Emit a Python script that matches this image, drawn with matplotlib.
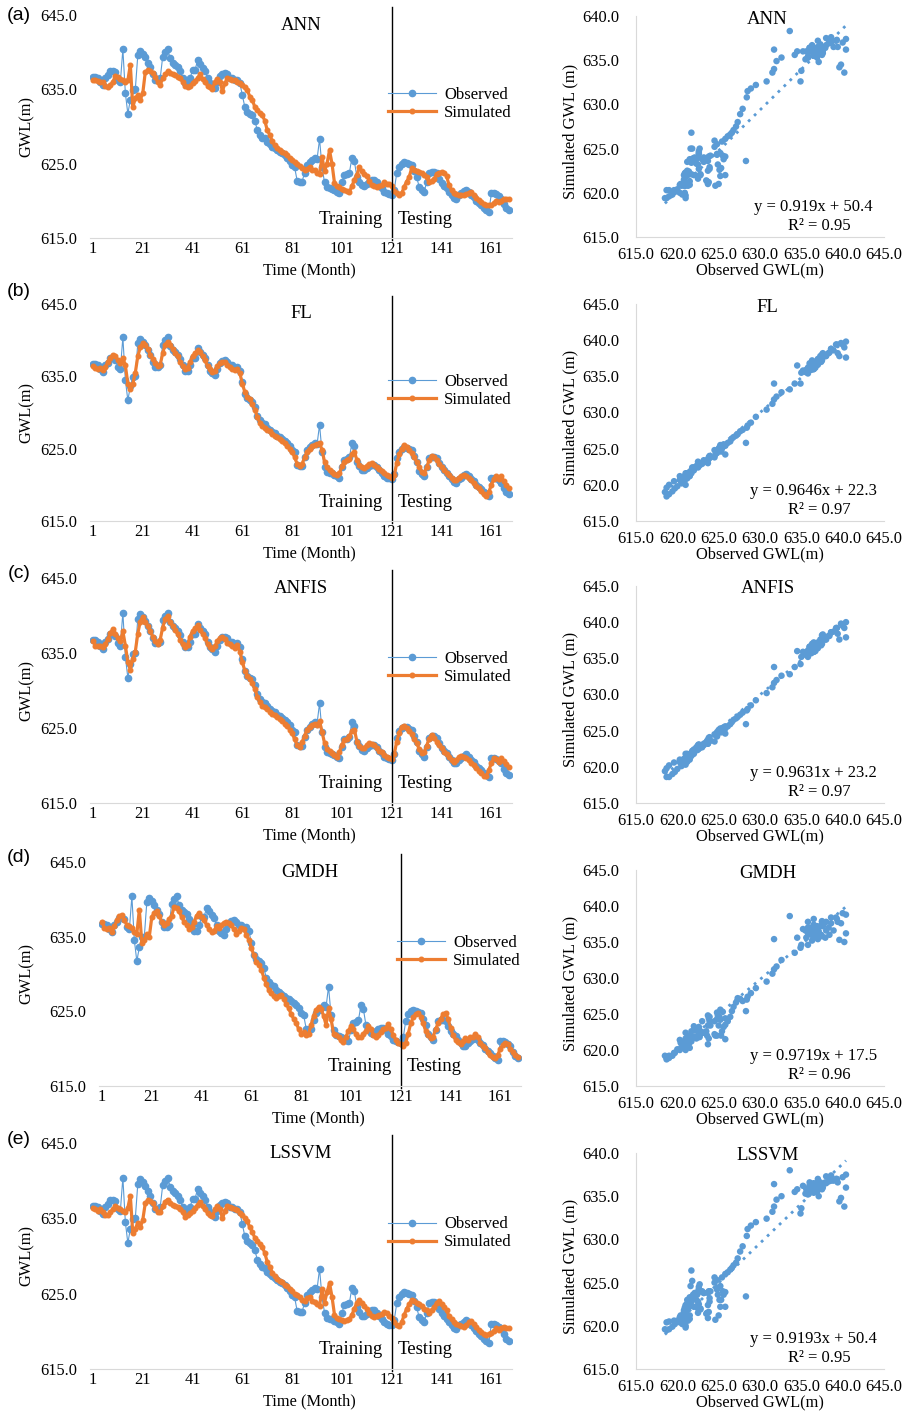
import numpy as np
import matplotlib
matplotlib.use("Agg")
import matplotlib.pyplot as plt
import matplotlib.transforms as mtransforms

# ---- data -----------------------------------------------------------------
months = list(range(1, 169))

observed = [
    636.7, 636.7, 636.5, 636.0, 635.6, 636.5, 636.9, 637.5, 637.5, 637.3,
    636.3, 636.0, 640.4, 634.5, 631.7, 633.6, 634.9, 635.0, 639.6, 640.2,
    639.8, 639.3, 638.6, 638.0, 637.0, 636.3, 636.3, 636.5, 639.4, 640.0,
    640.4, 639.2, 638.6, 638.3, 638.0, 637.4, 636.5, 635.8, 635.8, 636.5,
    637.6, 637.6, 638.9, 638.4, 637.9, 637.5, 636.5, 635.8, 635.5, 635.2,
    636.0, 636.8, 637.1, 637.2, 637.0, 636.5, 636.5, 636.2, 636.3, 635.8,
    634.2, 632.6, 632.0, 631.7, 631.5, 630.8, 629.5, 628.9, 628.5, 628.4,
    627.9, 627.6, 627.3, 627.1, 626.8, 626.6, 626.4, 626.1, 625.8, 625.4,
    624.8, 624.5, 622.7, 622.6, 622.6, 623.8, 624.8, 625.2, 625.5, 625.8,
    625.6, 628.3, 624.5, 622.5, 621.8, 621.7, 621.6, 621.4, 621.2, 621.0,
    622.5, 623.5, 623.6, 623.8, 625.8, 625.3, 623.2, 622.6, 622.1, 622.0,
    622.3, 622.6, 622.8, 622.8, 622.5, 622.0, 621.7, 621.2, 621.0, 620.9,
    620.8, 621.5, 623.7, 624.6, 625.0, 625.2, 625.1, 624.9, 624.8, 624.0,
    623.2, 621.9, 621.5, 621.2, 622.5, 623.7, 623.9, 623.9, 623.7, 623.0,
    622.4, 622.0, 621.7, 621.2, 620.8, 620.4, 620.3, 620.8, 621.0, 621.3,
    621.5, 621.2, 620.8, 620.5, 620.0, 619.7, 619.4, 619.0, 618.7, 618.5,
    621.0, 621.0, 620.9, 620.6, 620.3, 619.6, 619.0, 618.7,
]

sim_ann = [
    636.2, 636.3, 636.1, 636.0, 636.0, 635.5, 635.3, 635.6, 636.0, 636.8,
    636.6, 636.4, 636.2, 636.0, 636.2, 638.3, 632.6, 633.8, 634.2, 633.6,
    634.5, 637.3, 637.6, 637.5, 637.2, 636.7, 636.0, 635.6, 636.5, 637.0,
    637.4, 637.2, 637.0, 636.9, 636.7, 636.5, 636.0, 635.4, 635.3, 635.5,
    635.8, 636.1, 636.5, 637.0, 636.4, 636.0, 635.5, 635.3, 635.1, 636.0,
    636.4, 636.0, 634.8, 635.8, 636.5, 636.4, 636.2, 636.3, 636.0, 635.9,
    635.6, 635.3, 634.9, 634.0, 633.6, 632.6, 632.2, 631.8, 631.5, 630.8,
    629.5, 628.9, 628.0, 627.5, 627.1, 626.8, 626.6, 626.4, 626.1, 625.8,
    625.5, 625.2, 625.0, 624.7, 624.4, 624.1, 624.3, 624.5, 624.2, 624.1,
    623.8, 623.6, 625.9, 624.0, 625.0, 626.8, 625.0, 622.4, 622.0, 621.8,
    621.6, 621.4, 621.3, 621.2, 622.0, 622.8, 623.5, 624.5, 624.0, 623.6,
    623.3, 622.7, 622.1, 622.0, 621.9, 622.0, 622.1, 622.5, 622.3, 622.2,
    622.0, 621.3, 621.0, 620.8, 621.0, 621.9, 622.6, 623.2, 624.4, 624.2,
    624.0, 623.9, 623.8, 623.5, 623.2, 622.5, 622.7, 622.9, 623.6, 623.8,
    623.9, 623.7, 623.4, 622.1, 621.5, 621.0, 620.9, 620.8, 620.8, 620.8,
    620.9, 621.0, 621.2, 620.8, 620.4, 620.1, 619.8, 619.6, 619.4, 619.4,
    619.4, 619.7, 620.0, 619.8, 620.0, 620.3, 620.3, 620.3,
]

sim_fl = [
    636.4, 636.2, 636.0, 636.1, 635.9, 636.3, 637.0, 637.6, 638.0, 637.8,
    637.2, 636.8, 637.6, 636.5, 634.0, 633.2, 634.0, 635.5, 637.8, 639.0,
    639.6, 639.4, 638.8, 638.0, 637.4, 636.8, 636.4, 636.6, 638.2, 639.4,
    639.8, 639.4, 638.8, 638.2, 637.8, 637.0, 636.4, 636.0, 636.2, 637.0,
    637.8, 638.2, 638.6, 638.3, 637.8, 637.2, 636.4, 636.0, 635.6, 635.8,
    636.4, 636.8, 637.0, 637.0, 636.6, 636.3, 636.0, 635.9, 636.0, 635.4,
    634.0, 632.8, 632.2, 631.8, 631.2, 630.4, 629.4, 628.6, 628.2, 627.9,
    627.6, 627.4, 627.0, 626.8, 626.6, 626.4, 626.0, 625.8, 625.4, 625.0,
    624.6, 623.8, 622.9, 622.6, 622.9, 623.8, 624.6, 625.0, 625.3, 625.5,
    625.6, 625.8, 624.8, 623.2, 622.4, 622.0, 621.8, 621.5, 621.3, 621.6,
    622.6, 623.2, 623.4, 623.6, 624.2, 624.6, 623.4, 622.8, 622.4, 622.3,
    622.6, 622.9, 623.0, 622.8, 622.5, 622.2, 621.9, 621.6, 621.3, 621.2,
    621.0, 621.3, 623.0, 624.2, 625.0, 625.5, 625.2, 624.8, 624.4, 623.8,
    623.2, 622.4, 621.8, 621.6, 622.4, 623.4, 624.0, 623.8, 623.4, 622.9,
    622.5, 622.0, 621.6, 621.3, 620.9, 620.6, 620.7, 621.0, 621.2, 621.4,
    621.2, 620.9, 620.6, 620.2, 619.8, 619.5, 619.1, 618.7, 618.4, 619.0,
    620.0, 620.8, 621.2, 620.8, 621.2, 620.5, 620.0, 619.6,
]

sim_anfis = [
    636.6, 636.0, 635.9, 636.0, 635.8, 636.2, 636.9, 637.7, 638.2, 637.6,
    637.0, 636.6, 637.9, 636.0, 633.8, 632.8, 634.2, 635.2, 637.6, 639.2,
    639.8, 639.2, 638.6, 637.9, 637.2, 636.6, 636.2, 636.8, 638.4, 639.5,
    640.0, 639.2, 638.6, 638.1, 637.6, 636.8, 636.2, 635.8, 636.1, 637.2,
    637.9, 638.3, 638.7, 638.1, 637.6, 637.0, 636.2, 635.8, 635.5, 635.9,
    636.6, 637.0, 637.1, 636.9, 636.4, 636.2, 635.9, 635.7, 636.1, 635.2,
    633.8, 632.6, 632.0, 631.6, 631.0, 630.2, 629.2, 628.5, 628.0, 627.8,
    627.5, 627.2, 626.9, 626.7, 626.5, 626.2, 625.9, 625.6, 625.3, 624.8,
    624.3, 623.5, 622.7, 622.5, 623.1, 624.0, 624.8, 625.2, 625.4, 625.6,
    625.4, 625.9, 624.5, 623.0, 622.2, 621.9, 621.7, 621.4, 621.2, 621.8,
    622.8, 623.4, 623.6, 623.9, 624.6, 624.8, 623.2, 622.6, 622.3, 622.4,
    622.7, 623.0, 622.9, 622.7, 622.4, 622.0, 621.8, 621.4, 621.2, 621.0,
    620.9, 621.5, 623.2, 624.4, 625.1, 625.3, 625.0, 624.6, 624.2, 623.6,
    623.0, 622.2, 621.7, 621.8, 622.6, 623.6, 624.1, 623.7, 623.2, 622.7,
    622.3, 621.8, 621.5, 621.2, 620.8, 620.5, 620.8, 621.1, 621.3, 621.2,
    621.0, 620.7, 620.4, 620.1, 619.7, 619.3, 619.0, 618.6, 618.6, 619.4,
    620.3, 621.0, 620.9, 620.5, 621.0, 620.6, 620.2, 619.8,
]

sim_gmdh = [
    637.0, 636.2, 636.0, 636.2, 635.6, 636.4, 637.2, 637.8, 637.9, 637.2,
    636.6, 636.4, 636.2, 635.6, 635.4, 638.6, 634.2, 634.6, 635.3, 635.0,
    637.6, 638.2, 638.4, 637.8, 637.0, 636.6, 636.8, 637.4, 637.8, 639.0,
    638.8, 638.4, 637.6, 637.0, 636.6, 636.0, 636.3, 637.0, 637.8, 638.2,
    637.6, 637.2, 636.6, 636.0, 635.6, 635.8, 636.4, 636.2, 636.6, 636.8,
    637.0, 636.8, 636.5, 636.0, 635.4, 635.8, 636.2, 636.0, 635.2, 634.6,
    633.5, 632.5, 631.6, 631.2, 630.6, 629.5, 628.6, 627.9, 627.4, 627.0,
    626.8, 627.1, 627.2, 626.6, 626.0, 625.4, 624.6, 624.0, 623.5, 622.6,
    622.0, 622.2, 621.8, 622.0, 623.2, 624.4, 625.2, 625.6, 625.3, 624.4,
    623.2, 625.4, 624.0, 622.0, 621.8, 621.6, 621.2, 620.9, 621.6, 622.4,
    623.0, 622.6, 622.0, 621.6, 621.5, 622.0, 622.4, 623.0, 622.7, 621.8,
    621.6, 621.8, 622.2, 622.6, 622.8, 623.3, 622.6, 621.8, 621.2, 620.7,
    620.6, 620.3, 620.8, 622.0, 623.4, 624.2, 624.6, 624.8, 624.3, 623.4,
    622.4, 621.8, 621.4, 621.6, 622.6, 623.4, 624.0, 624.6, 624.8, 624.0,
    622.8, 621.8, 621.2, 620.9, 620.6, 621.0, 621.4, 621.2, 621.6, 621.5,
    622.0, 621.6, 620.8, 620.4, 620.1, 619.6, 619.2, 618.9, 618.7, 619.2,
    620.0, 620.5, 620.8, 620.6, 620.0, 619.6, 619.2, 618.9,
]

sim_lssvm = [
    636.4, 636.2, 636.0, 636.2, 635.8, 635.4, 635.5, 635.8, 636.2, 636.6,
    636.4, 636.2, 636.0, 635.8, 636.4, 638.0, 633.0, 633.6, 634.4, 633.8,
    634.8, 637.0, 637.4, 637.3, 637.0, 636.4, 635.8, 635.8, 636.6, 637.2,
    637.5, 637.0, 636.8, 636.7, 636.5, 636.2, 635.8, 635.2, 635.4, 635.7,
    636.0, 636.4, 636.8, 637.2, 636.6, 636.2, 635.7, 635.4, 635.3, 636.2,
    636.6, 636.2, 635.0, 636.0, 636.7, 636.5, 636.4, 636.2, 636.1, 635.7,
    635.5, 635.0, 634.6, 633.8, 633.2, 632.4, 632.0, 631.6, 631.2, 630.4,
    629.2, 628.6, 627.8, 627.3, 627.0, 626.7, 626.5, 626.2, 626.0, 625.6,
    625.3, 625.0, 624.8, 624.5, 624.2, 624.0, 624.4, 624.6, 624.0, 623.9,
    623.6, 623.4, 625.6, 623.8, 625.2, 626.4, 624.6, 622.2, 621.8, 621.6,
    621.5, 621.4, 621.5, 621.6, 622.2, 623.0, 623.8, 624.2, 623.8, 623.4,
    623.0, 622.5, 622.0, 621.9, 622.0, 622.2, 622.3, 622.6, 622.4, 622.1,
    621.8, 621.2, 620.9, 620.7, 621.2, 622.2, 623.0, 623.6, 624.2, 624.0,
    623.8, 623.6, 623.3, 623.0, 622.8, 622.4, 622.8, 623.2, 623.8, 624.0,
    623.6, 623.2, 622.8, 622.0, 621.6, 621.2, 621.0, 620.9, 620.7, 620.6,
    620.8, 621.2, 621.4, 621.0, 620.6, 620.2, 619.9, 619.6, 619.5, 619.6,
    619.8, 620.0, 620.4, 620.2, 620.4, 620.6, 620.5, 620.4,
]

models = ["ANN", "FL", "ANFIS", "GMDH", "LSSVM"]
panel_tags = ["(a)", "(b)", "(c)", "(d)", "(e)"]
simulated = [sim_ann, sim_fl, sim_anfis, sim_gmdh, sim_lssvm]
slopes = ["0.919", "0.9646", "0.9631", "0.9719", "0.9193"]
intercepts = ["50.4", "22.3", "23.2", "17.5", "50.4"]
r2 = ["0.95", "0.97", "0.97", "0.96", "0.95"]
scatter_ytop = [640, 645, 645, 645, 640]

month_ticks = [1, 21, 41, 61, 81, 101, 121, 141, 161]
gwl_ticks = [615, 625, 635, 645]
split_month = 121

# ---- layout (pixels of the 905x1411 canvas) ---------------------------------
W, H = 905, 1411
BLUE = "#5B9BD5"
ORANGE = "#ED7D31"
AXIS_GREY = "#D9D9D9"
SERIF = "Liberation Serif"

left_boxes = [(90, 15, 512, 238), (90, 304, 512, 521), (90, 578, 512, 803),
              (99, 862, 521, 1086), (90, 1143, 512, 1369)]
right_boxes = [(636, 16, 884, 237), (636, 304, 884, 521), (636, 586, 884, 803),
               (636, 870, 884, 1086), (636, 1153, 884, 1369)]
tag_y = [16, 291, 573, 857, 1140]


def rect(l, t, r, b):
    return [l / W, 1 - b / H, (r - l) / W, (b - t) / H]


def ftext(x, y, s, **kw):
    fig.text(x / W, 1 - y / H, s, **kw)


plt.rcParams["font.family"] = [SERIF, "DejaVu Serif"]
fig = plt.figure(figsize=(W / 100, H / 100), dpi=100)

for i, name in enumerate(models):
    sim = simulated[i]
    lb = left_boxes[i]
    rb = right_boxes[i]

    # ---- time series ----
    ax = fig.add_axes(rect(*lb))
    ax.plot(months, observed, color=BLUE, lw=0.8, marker="o", ms=4.5,
            label="Observed")
    ax.plot(months, sim, color=ORANGE, lw=2.3, marker="o", ms=3.3,
            label="Simulated")
    ax.set_xlim(-0.2, 169.3)
    ax.set_ylim(615, 645)
    ax.set_xticks(month_ticks)
    ax.set_yticks(gwl_ticks)
    ax.set_yticklabels([f"{v:.1f}" for v in gwl_ticks])
    ax.tick_params(axis="both", length=0, labelsize=11.8)
    ax.tick_params(axis="y", pad=9.4)
    ax.tick_params(axis="x", pad=2)
    for s in ["top", "right", "left"]:
        ax.spines[s].set_visible(False)
    ax.spines["bottom"].set_color(AXIS_GREY)
    ax.axvline(split_month, ymin=-0.01, ymax=1.035, color="black", lw=1,
               clip_on=False)
    ax.text(0.5, 0.955, name, transform=ax.transAxes, ha="center",
            va="center", fontsize=13.5)
    trans = mtransforms.blended_transform_factory(ax.transData, ax.transAxes)
    ax.text(split_month - 3.5, 0.085, "Training", transform=trans,
            ha="right", va="center", fontsize=13.5)
    ax.text(split_month + 2.5, 0.085, "Testing", transform=trans,
            ha="left", va="center", fontsize=13.5)
    ax.legend(loc="center left", bbox_to_anchor=(0.705, 0.60), frameon=False,
              borderpad=0, borderaxespad=0, handlelength=2.9,
              handletextpad=0.5, labelspacing=0.12, fontsize=12)

    ftext(19, tag_y[i], panel_tags[i], family="Liberation Sans", fontsize=14,
          ha="center", va="center")
    ftext(27, (lb[1] + lb[3]) / 2, "GWL(m)", rotation=90, ha="center",
          va="center", fontsize=11.8)
    ftext((lb[0] + lb[2]) / 2 + 8, lb[3] + 32, "Time (Month)", ha="center",
          va="center", fontsize=11.8)

    # ---- scatter ----
    sx = fig.add_axes(rect(*rb))
    sx.scatter(observed, sim, s=22, color=BLUE, edgecolors="none", zorder=3)
    a = float(slopes[i])
    b = float(intercepts[i])
    xr = np.array([min(observed), max(observed)])
    sx.plot(xr, a * xr + b, color=BLUE, lw=2, ls=(0, (1, 2)), zorder=2)
    sx.set_xlim(615, 645)
    sx.set_ylim(615, scatter_ytop[i])
    xt = list(range(615, 646, 5))
    yt = list(range(615, scatter_ytop[i] + 1, 5))
    sx.set_xticks(xt)
    sx.set_xticklabels([f"{v:.1f}" for v in xt])
    sx.set_yticks(yt)
    sx.set_yticklabels([f"{v:.1f}" for v in yt])
    sx.tick_params(axis="both", length=0, labelsize=11.8)
    sx.tick_params(axis="y", pad=12)
    sx.tick_params(axis="x", pad=7)
    for s in ["top", "right"]:
        sx.spines[s].set_visible(False)
    for s in ["bottom", "left"]:
        sx.spines[s].set_color(AXIS_GREY)
    hpx = rb[3] - rb[1]
    sx.text(0.53, 1 - 3 / hpx, name, transform=sx.transAxes, ha="center",
            va="center", fontsize=13.5)
    sx.text(0.714, 30 / hpx, f"y = {slopes[i]}x + {intercepts[i]}",
            transform=sx.transAxes, ha="center", va="center", fontsize=12)
    sx.text(0.74, 11 / hpx, f"R\u00b2 = {r2[i]}", transform=sx.transAxes,
            ha="center", va="center", fontsize=12)

    ftext(570, (rb[1] + rb[3]) / 2 + 5, "Simulated GWL (m)", rotation=90,
          ha="center", va="center", fontsize=11.8)
    ftext(760, rb[3] + 33, "Observed GWL(m)", ha="center", va="center",
          fontsize=11.8)

fig.savefig("out.png", dpi=100)
